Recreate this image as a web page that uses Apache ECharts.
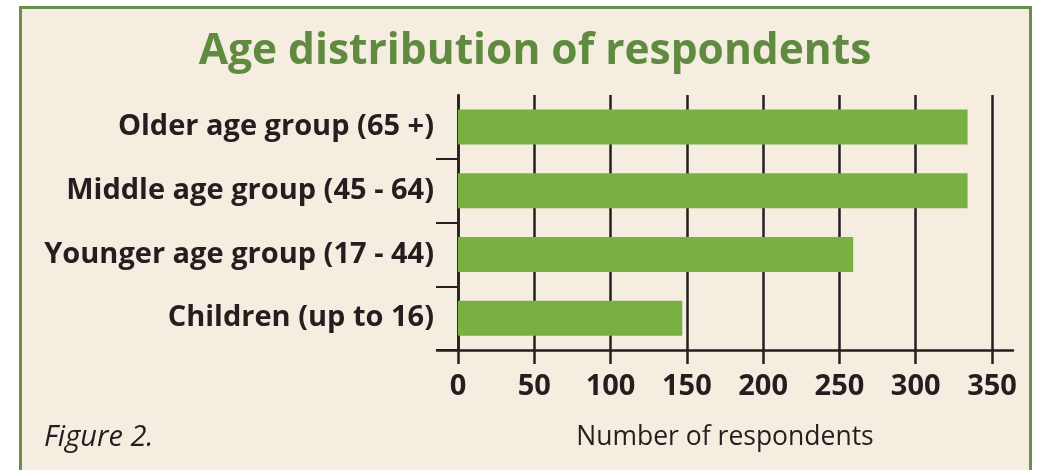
<!DOCTYPE html>
<html>
<head>
  <meta charset="utf-8">
  <title>Age distribution of respondents</title>
  <script src="https://cdn.jsdelivr.net/npm/echarts@6/dist/echarts.min.js"></script>
  <style>
    body { margin: 0; background: #ffffff; }
  </style>
</head>
<body>
<div id="main" style="width: 1038px;height:470px;"></div>
<script type="text/javascript">
  // data
  var groups = ['Older age group (65 +)', 'Middle age group (45 - 64)', 'Younger age group (17 - 44)', 'Children (up to 16)'];
  var respondents = [334, 334, 259, 147];
  var xTicks = [0, 50, 100, 150, 200, 250, 300, 350];

  var ink = '#231f20';
  var font = '"Open Sans", "Noto Sans", sans-serif';

  var myChart = echarts.init(document.getElementById('main'));

  var option = {
    backgroundColor: '#ffffff',
    animation: false,
    graphic: [
      {
        type: 'rect',
        z: -10,
        shape: { x: 20.5, y: 7.5, width: 1010, height: 470 },
        style: { fill: '#f5ede0', stroke: '#6a8f4c', lineWidth: 3 }
      }
    ],
    title: [
      {
        text: 'Age distribution of respondents',
        left: 530, top: 25, textAlign: 'center',
        textStyle: { fontFamily: font, fontSize: 42.5, fontWeight: 'bold', color: '#5f8a40' }
      },
      {
        text: 'Figure 2.',
        left: 39, top: 418,
        textStyle: { fontFamily: font, fontSize: 29, fontWeight: 'normal', fontStyle: 'italic', color: ink }
      }
    ],
    grid: [
      { left: 458, right: 46, top: 95, bottom: 120 },
      { left: 437, right: 25, top: 95, bottom: 120 }
    ],
    xAxis: [
      {
        type: 'value',
        gridIndex: 0,
        min: xTicks[0],
        max: xTicks[xTicks.length - 1],
        interval: 50,
        name: 'Number of respondents',
        nameLocation: 'middle',
        nameGap: 74,
        nameTextStyle: { fontFamily: font, fontSize: 26.5, color: ink },
        axisLine: { show: false },
        axisTick: { show: true, length: 14, lineStyle: { color: ink, width: 2.5 } },
        splitLine: { show: true, lineStyle: { color: ink, width: 2.5 } },
        axisLabel: { margin: 22, fontFamily: font, fontSize: 29, fontWeight: 'bold', color: ink }
      },
      {
        type: 'value',
        gridIndex: 1,
        min: 0, max: 1,
        axisLine: { show: true, onZero: false, lineStyle: { color: ink, width: 2.5 } },
        axisTick: { show: false },
        axisLabel: { show: false },
        splitLine: { show: false }
      }
    ],
    yAxis: [
      {
        type: 'category',
        gridIndex: 0,
        inverse: true,
        data: groups,
        axisLine: { show: true, lineStyle: { color: ink, width: 2.5 } },
        axisTick: {
          show: true, length: 22,
          interval: function (i) { return i !== 0; },
          lineStyle: { color: ink, width: 2 }
        },
        axisLabel: { margin: 24, fontFamily: font, fontSize: 29, fontWeight: 'bold', color: ink }
      },
      {
        type: 'value',
        gridIndex: 1,
        show: false
      }
    ],
    series: [
      {
        type: 'bar',
        xAxisIndex: 0,
        yAxisIndex: 0,
        data: respondents,
        barWidth: 35,
        itemStyle: { color: '#78b042' },
        z: 3
      }
    ]
  };

  myChart.setOption(option);
</script>
</body>
</html>
